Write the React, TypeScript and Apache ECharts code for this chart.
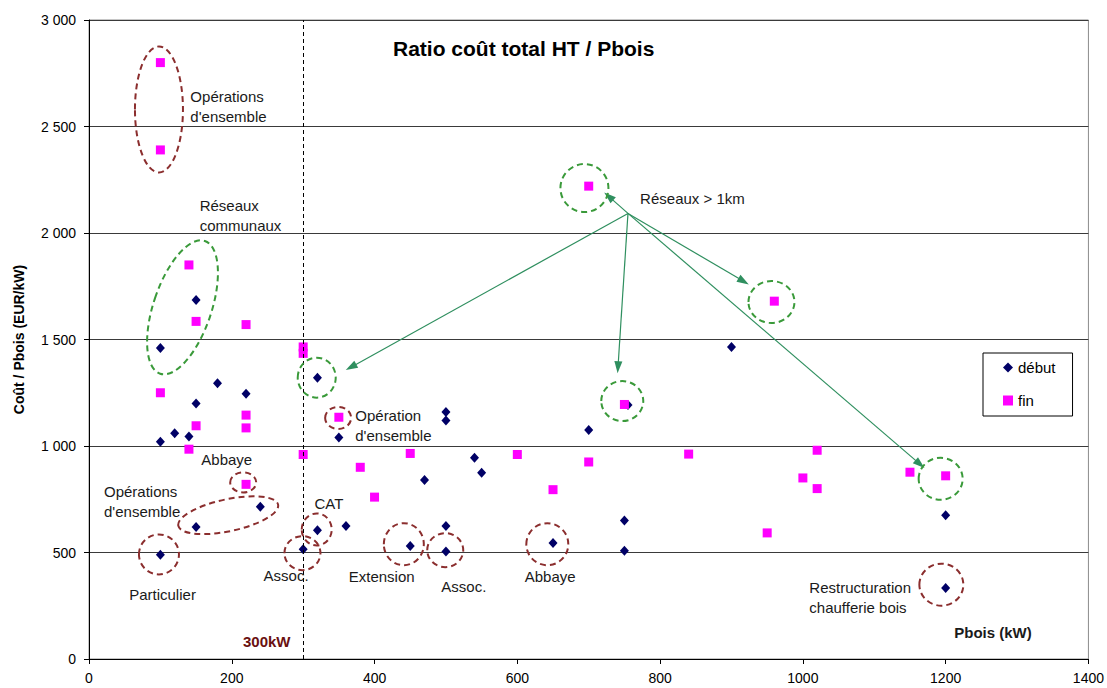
import React, { useEffect, useRef } from "react";
import * as echarts from "echarts";

// ---- data (Pbois kW, coût / Pbois EUR/kW) ----
const debutPoints: [number, number][] = [
  [100, 1460], [100, 1020], [100, 490], [120, 1060], [140, 1045],
  [150, 1685], [150, 1200], [150, 620], [180, 1295], [220, 1245],
  [240, 715], [300, 515], [320, 1320], [320, 605], [350, 1040],
  [360, 625], [450, 530], [470, 840], [500, 1160], [500, 1120],
  [500, 625], [500, 505], [540, 945], [550, 875], [650, 545],
  [700, 1075], [750, 650], [750, 508], [755, 1193], [900, 1465],
  [1200, 675], [1200, 333],
];

const finPoints: [number, number][] = [
  [100, 2800], [100, 2390], [140, 1850], [150, 1585], [220, 1570],
  [300, 1465], [300, 1435], [100, 1250], [220, 1145], [150, 1095],
  [220, 1085], [140, 985], [300, 960], [220, 820], [380, 900],
  [400, 760], [350, 1135], [450, 965], [600, 960], [700, 925],
  [650, 795], [750, 1195], [700, 2220], [960, 1680], [1020, 980],
  [1000, 850], [1020, 800], [1150, 877], [1200, 860], [950, 592],
  [840, 962],
];

const seriesNames = ["début", "fin"];
const thresholdKW = 300;

// ---- annotations (anchored in data space) ----
const ellipseCenters: [number, number][] = [
  [98, 2580], [131, 1651], [319, 1321], [349, 1132], [216, 829],
  [195, 675], [98, 491], [299, 497], [319, 608], [441, 539],
  [499, 511], [642, 539], [747, 1211], [694, 2211], [956, 1676],
  [1193, 846], [1194, 349],
];
const ellipseShapes: { rx: number; ry: number; rot: number; green: boolean }[] = [
  { rx: 24, ry: 63, rot: 0, green: false },
  { rx: 29, ry: 70, rot: -18.6, green: true },
  { rx: 19, ry: 20, rot: 0, green: true },
  { rx: 13, ry: 11, rot: 0, green: false },
  { rx: 13, ry: 10, rot: 0, green: false },
  { rx: 51, ry: 16, rot: 12, green: false },
  { rx: 20, ry: 20, rot: 0, green: false },
  { rx: 18, ry: 17, rot: 0, green: false },
  { rx: 15, ry: 16, rot: 0, green: false },
  { rx: 20, ry: 21, rot: 0, green: false },
  { rx: 18, ry: 17, rot: 0, green: false },
  { rx: 21, ry: 21, rot: 0, green: false },
  { rx: 21, ry: 20, rot: 0, green: true },
  { rx: 24, ry: 24, rot: 0, green: true },
  { rx: 23, ry: 21, rot: 0, green: true },
  { rx: 22, ry: 21, rot: 0, green: true },
  { rx: 22, ry: 21, rot: 0, green: false },
];

const arrowOrigin: [number, number] = [755, 2092];
const arrowTargets: [number, number][] = [
  [367, 1370], [741, 1370], [917, 1773], [728, 2172], [1164, 915],
];

const textAnchors: [number, number][] = [
  [142, 2594], [155, 2083], [373, 1095], [193, 938], [21, 739],
  [336, 732], [103, 305], [276, 394], [410, 385], [525, 339],
  [646, 385], [772, 2161], [1009, 291], [1212, 123], [249, 81],
];
const textContents: string[] = [
  "Opérations\nd'ensemble", "Réseaux\ncommunaux", "Opération\nd'ensemble",
  "Abbaye", "Opérations\nd'ensemble", "CAT", "Particulier", "Assoc.",
  "Extension", "Assoc.", "Abbaye", "Réseaux > 1km",
  "Restructuration\nchaufferie bois", "Pbois (kW)", "300kW",
];
const textAligns: string[] = [
  "left", "left", "left", "center", "left", "center", "center", "center",
  "center", "center", "center", "left", "left", "left", "center",
];

const FONT = "'Liberation Sans', Arial, sans-serif";
const BROWN = "#8b2e2e";
const GREEN = "#3a9a3a";
const ARROW = "#2f8f5f";

function fmtThousands(v: number): string {
  if (v >= 1000) {
    const t = Math.floor(v / 1000);
    const r = String(v % 1000).padStart(3, "0");
    return t + " " + r;
  }
  return String(v);
}

export default function App() {
  const ref = useRef<HTMLDivElement>(null);

  useEffect(() => {
    document.body.style.margin = "0";
    if (!ref.current) return;
    const chart = echarts.init(ref.current, null, { renderer: "svg" });

    const option: any = {
      animation: false,
      backgroundColor: "#ffffff",
      textStyle: { fontFamily: FONT },
      title: {
        text: "Ratio coût total HT / Pbois",
        left: 388,
        top: 33,
        textStyle: { fontSize: 21, fontWeight: "bold", color: "#000", fontFamily: FONT },
      },
      legend: {
        orient: "vertical",
        left: 983,
        top: 353,
        padding: [7, 17, 8, 20],
        itemGap: 18,
        itemWidth: 10,
        itemHeight: 10,
        borderColor: "#000",
        borderWidth: 1,
        textStyle: { fontSize: 15, color: "#000", fontFamily: FONT },
        data: [
          { name: seriesNames[0], icon: "diamond" },
          { name: seriesNames[1], icon: "rect" },
        ],
      },
      grid: {
        left: 89,
        right: 16,
        top: 20,
        bottom: 29,
        show: true,
        borderColor: "#8c8c8c",
        borderWidth: 1,
        backgroundColor: "transparent",
      },
      xAxis: {
        type: "value",
        min: 0,
        max: 1400,
        interval: 200,
        axisLine: { show: true, lineStyle: { color: "#000", width: 1 } },
        axisTick: { show: true, length: 5, lineStyle: { color: "#000" } },
        axisLabel: {
          fontSize: 14,
          color: "#000",
          margin: 12,
          fontFamily: FONT,
          formatter: (v: number) => String(v),
        },
        splitLine: { show: false },
      },
      yAxis: {
        type: "value",
        min: 0,
        max: 3000,
        interval: 500,
        name: "Coût / Pbois (EUR/kW)",
        nameLocation: "middle",
        nameGap: 63,
        nameTextStyle: { fontSize: 14, fontWeight: "bold", color: "#000", fontFamily: FONT },
        axisLine: { show: true, lineStyle: { color: "#000", width: 1 } },
        axisTick: { show: true, length: 5, lineStyle: { color: "#000" } },
        axisLabel: {
          fontSize: 14,
          color: "#000",
          margin: 13,
          fontFamily: FONT,
          formatter: (v: number) => fmtThousands(v),
        },
        splitLine: { show: true, lineStyle: { color: "#3a3a3a", width: 1 } },
      },
      series: [
        {
          name: seriesNames[0],
          type: "scatter",
          symbol: "diamond",
          symbolSize: [9, 10],
          itemStyle: { color: "#000066", opacity: 1 },
          data: debutPoints,
          z: 3,
          markLine: {
            silent: true,
            symbol: ["none", "triangle"],
            symbolSize: [8, 12],
            label: { show: false },
            lineStyle: { color: ARROW, width: 1.2, type: "solid", opacity: 1 },
            data: arrowTargets.map((t) => [
              { coord: arrowOrigin },
              { coord: t },
            ]),
          },
        },
        {
          name: seriesNames[1],
          type: "scatter",
          symbol: "rect",
          symbolSize: 9,
          itemStyle: { color: "#ff00ff", opacity: 1 },
          data: finPoints,
          z: 4,
          markLine: {
            silent: true,
            symbol: ["none", "none"],
            label: { show: false },
            lineStyle: { color: "#000", width: 1, type: [4, 3], opacity: 1 },
            data: [{ xAxis: thresholdKW }],
          },
        },
        {
          name: "ellipses",
          type: "custom",
          coordinateSystem: "cartesian2d",
          silent: true,
          z: 5,
          data: ellipseCenters,
          renderItem: (params: any, api: any) => {
            const p = api.coord([api.value(0), api.value(1)]);
            const s = ellipseShapes[params.dataIndex];
            return {
              type: "ellipse",
              x: p[0],
              y: p[1],
              rotation: (s.rot * Math.PI) / 180,
              shape: { cx: 0, cy: 0, rx: s.rx, ry: s.ry },
              style: {
                fill: "none",
                stroke: s.green ? GREEN : BROWN,
                lineWidth: 2,
                lineDash: [6, 4],
              },
            };
          },
        },
        {
          name: "annotations",
          type: "custom",
          coordinateSystem: "cartesian2d",
          silent: true,
          z: 6,
          data: textAnchors,
          renderItem: (params: any, api: any) => {
            const p = api.coord([api.value(0), api.value(1)]);
            const i = params.dataIndex;
            const bold = i >= 13;
            return {
              type: "text",
              x: p[0],
              y: p[1],
              style: {
                text: textContents[i],
                fontFamily: FONT,
                fontSize: 15,
                fontWeight: bold ? "bold" : "normal",
                fill: i === 14 ? "#6a1010" : "#1a1a1a",
                align: textAligns[i],
                verticalAlign: "middle",
                lineHeight: 20,
              },
            };
          },
        },
      ],
    };

    chart.setOption(option);
    return () => chart.dispose();
  }, []);

  return <div ref={ref} style={{ width: 1107, height: 688 }} />;
}
